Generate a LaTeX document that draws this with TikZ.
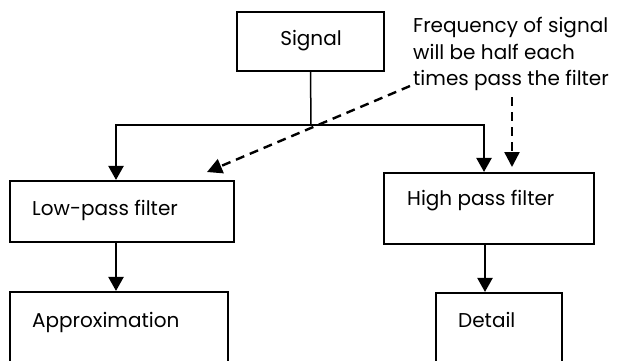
\documentclass[tikz,border=0pt]{standalone}
\usepackage{fontspec}
\setmainfont{Poppins}
\usetikzlibrary{arrows.meta}

\tikzset{
  box/.style={draw, line width=2.1pt, inner sep=0pt},
  lbl/.style={inner sep=0pt, font=\fontsize{20}{26.6}\selectfont},
  flow/.style={line width=2.2pt, -{Triangle[length=14pt,width=15pt]}},
  note/.style={line width=2.4pt, dash pattern=on 9pt off 6pt, -{Triangle[length=15pt,width=15pt]}}
}

\begin{document}
\begin{tikzpicture}[x=1pt, y=-1pt]
			%%%%% FRAME %%%%%
			\useasboundingbox (0,0) rectangle (617,360);
			\clip (0,0) rectangle (617,360);
			
			%%%%% BOXES %%%%%
			\node[box, minimum width=147pt, minimum height=59pt] (signal) at (310.5, 41.5) {};
			\node[box, minimum width=224pt, minimum height=61pt] (lowpass) at (122, 211.5) {};
			\node[box, minimum width=210pt, minimum height=71pt] (highpass) at (489, 208.5) {};
			\node[box, minimum width=218pt, minimum height=88pt] (approx) at (119, 336) {};
			\node[box, minimum width=126pt, minimum height=87pt] (detail) at (499, 336.5) {};
			
			%%%%% TEXTS %%%%%
			\node[lbl, anchor=base] (signaltext) at (311, 45) {Signal};
			\node[lbl, anchor=base west] (lowpasstext) at (32, 215) {Low-pass filter};
			\node[lbl, anchor=base west] (highpasstext) at (407, 205) {High pass filter};
			\node[lbl, anchor=base west] (approxtext) at (32, 327) {Approximation};
			\node[lbl, anchor=base west] (detailtext) at (458, 327) {Detail};
			\node[lbl, anchor=north west, align=left] (notetext) at (413, 17)
				{Frequency of signal\\will be half each\\times pass the filter};
			
			%%%%% CONNECTORS %%%%%
			\coordinate (branch) at (311, 125);
			\draw[line width=1.5pt] (signal.south) -- (branch);
			\draw[flow] (branch) -| ([xshift=-6pt]lowpass.north);
			\draw[flow] (branch) -| ([xshift=-5pt]highpass.north);
			\draw[flow] ([xshift=-6pt]lowpass.south) -- ([xshift=-3pt]approx.north);
			\draw[flow] ([xshift=-4pt]highpass.south) -- ([xshift=-14pt]detail.north);
			
			%%%%% NOTE ARROWS %%%%%
			\coordinate (notestart) at (410, 86);
			\coordinate (noteleft) at (207, 172);
			\coordinate (notedown) at (512, 97);
			\coordinate (noteright) at (512, 167);
			\draw[note] (notestart) -- (noteleft);
			\draw[note] (notedown) -- (noteright);
		\end{tikzpicture}
\end{document}
